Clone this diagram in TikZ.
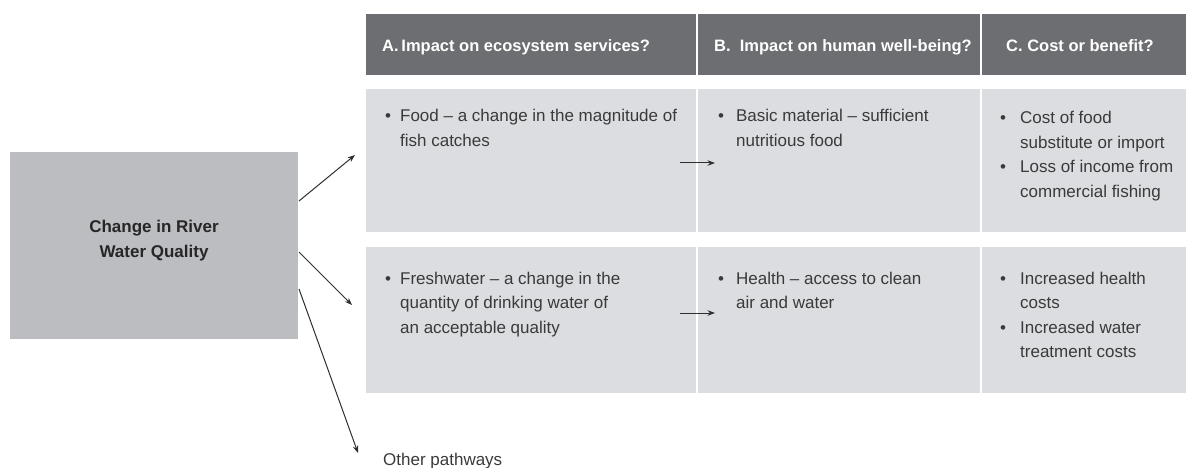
\documentclass[tikz,border=0pt]{standalone}
\usepackage{fontspec}
\setmainfont{Liberation Sans}
\usetikzlibrary{arrows.meta,calc}
\definecolor{hdrgray}{HTML}{6D6E71}
\definecolor{cellgray}{HTML}{DCDDE0}
\definecolor{srcgray}{HTML}{BCBDC1}
\definecolor{txtgray}{HTML}{3A3A3A}
\definecolor{arrgray}{HTML}{2E2E2E}
\newcommand{\bodyfont}{\fontsize{17}{24.5}\selectfont}
\newcommand{\hdrfont}{\fontsize{16.5}{20}\selectfont\bfseries}
\begin{document}
\begin{tikzpicture}[x=1pt,y=-1pt,
  cellbox/.style={anchor=north west,inner sep=0pt,outer sep=0pt,draw=none},
  hdrcell/.style={cellbox,fill=hdrgray,minimum height=61pt},
  bodycell/.style={cellbox,fill=cellgray},
  hdrtxt/.style={anchor=base west,inner sep=0pt,text=white,font=\hdrfont},
  bodytxt/.style={anchor=base west,inner sep=0pt,text=txtgray,font=\bodyfont},
  arr/.style={draw=arrgray,line width=1pt,-{Stealth[length=7.5pt,width=5.5pt]}}
]
\useasboundingbox (0,0) rectangle (1186,468);
% source box
\node[cellbox,fill=srcgray,minimum width=288pt,minimum height=187pt] (src) at (10,152) {};
\node[inner sep=0pt,text=black!85,font=\fontsize{17}{25}\selectfont\bfseries,align=center] (srctxt) at (154,241) {Change in River\\Water Quality};
% headers
\node[hdrcell,minimum width=330pt] (hA) at (366,14) {};
\node[hdrcell,minimum width=282pt] (hB) at (698,14) {};
\node[hdrcell,minimum width=204pt] (hC) at (982,14) {};
\node[hdrtxt] (hAt) at (382,52) {A.\,Impact on ecosystem services?};
\node[hdrtxt] (hBt) at (714,52) {B.\ \ Impact on human well-being?};
\node[hdrtxt] (hCt) at (1006,52) {C. Cost or benefit?};
% row 1
\node[bodycell,minimum width=330pt,minimum height=143pt] (r1A) at (366,89) {};
\node[bodycell,minimum width=282pt,minimum height=143pt] (r1B) at (698,89) {};
\node[bodycell,minimum width=204pt,minimum height=143pt] (r1C) at (982,89) {};
% row 2
\node[bodycell,minimum width=330pt,minimum height=146pt] (r2A) at (366,247) {};
\node[bodycell,minimum width=282pt,minimum height=146pt] (r2B) at (698,247) {};
\node[bodycell,minimum width=204pt,minimum height=146pt] (r2C) at (982,247) {};
% texts row 1
\node[bodytxt] (t1A) at (385,122) {\begin{tabular}[t]{@{}l@{\hspace{9pt}}l@{}}\textbullet & Food – a change in the magnitude of\\ & fish catches\end{tabular}};
\node[bodytxt] (t1B) at (718,122) {\begin{tabular}[t]{@{}l@{\hspace{12pt}}l@{}}\textbullet & Basic material – sufficient\\ & nutritious food\end{tabular}};
\node[bodytxt] (t1C) at (1000,124) {\begin{tabular}[t]{@{}l@{\hspace{14pt}}l@{}}\textbullet & Cost of food\\ & substitute or import\\ \textbullet & Loss of income from\\ & commercial fishing\end{tabular}};
% texts row 2
\node[bodytxt] (t2A) at (385,284) {\begin{tabular}[t]{@{}l@{\hspace{9pt}}l@{}}\textbullet & Freshwater – a change in the\\ & quantity of drinking water of\\ & an acceptable quality\end{tabular}};
\node[bodytxt] (t2B) at (718,284) {\begin{tabular}[t]{@{}l@{\hspace{12pt}}l@{}}\textbullet & Health – access to clean\\ & air and water\end{tabular}};
\node[bodytxt] (t2C) at (1000,284) {\begin{tabular}[t]{@{}l@{\hspace{14pt}}l@{}}\textbullet & Increased health\\ & costs\\ \textbullet & Increased water\\ & treatment costs\end{tabular}};
% other pathways
\node[bodytxt] (other) at (383,465) {Other pathways};
% arrow targets
\coordinate (e1) at (355,155);
\coordinate (e2) at (352,305);
\coordinate (e3) at (358,453);
\draw[arr] ($(src.north east)+(1,49)$) -- (e1);
\draw[arr] ($(src.north east)+(1,100)$) -- (e2);
\draw[arr] ($(src.north east)+(1,137)$) -- (e3);
% small arrows between columns A and B
\draw[arr] ($(r1A.north east)+(-16,74)$) -- ($(r1B.north west)+(17,74)$);
\draw[arr] ($(r2A.north east)+(-16,66)$) -- ($(r2B.north west)+(17,66)$);
\end{tikzpicture}
\end{document}
